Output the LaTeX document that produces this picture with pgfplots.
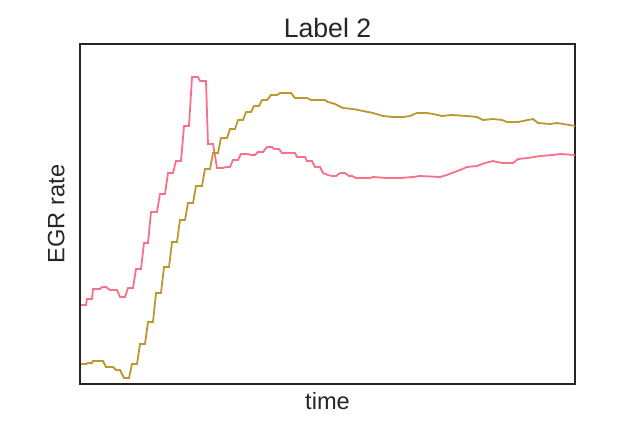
\documentclass[border=0pt]{standalone}
\usepackage{pgfplots}
\pgfplotsset{compat=1.18}
\usepackage{fontspec}
\setmainfont{Liberation Sans}
\usetikzlibrary{calc}

\definecolor{pinkline}{HTML}{F77189}
\definecolor{oliveline}{HTML}{BB9832}
\definecolor{axgray}{HTML}{262626}

\begin{document}
\begin{tikzpicture}
\begin{axis}[
    name=ax,
    scale only axis,
    width=356.4bp,
    height=244.8bp,
    xmin=80, xmax=575,
    ymin=0, ymax=340,
    xtick=\empty, ytick=\empty,
    axis line style={axgray, line width=1.25bp},
    every axis title shift=0pt,
    title={Label 2},
    xlabel={time},
    ylabel={EGR rate},
    title style={font=\fontsize{19.2bp}{23bp}\selectfont, text=axgray,
        at={(axis description cs:0.5,1.0204)}, anchor=base},
    xlabel style={font=\fontsize{17bp}{20bp}\selectfont, text=axgray,
        at={(axis description cs:0.5,-0.0764)}, anchor=base},
    ylabel style={font=\fontsize{17bp}{20bp}\selectfont, text=axgray,
        at={(axis description cs:-0.0314,0.5)}, anchor=base, rotate=0},
]

% pink series
\addplot[pinkline, line width=1.3bp, mark=none] coordinates {
(81,79) (86,79) (87,85) (92,85) (93,95) (100,95) (102,97) (106,97)
(110,94) (117,94) (120,87) (125,87) (128,96) (133,96) (136,115) (141,115)
(144,141) (148,141) (151,172) (157,172) (160,190) (165,190) (168,211) (173,211)
(176,223) (181,223) (184,258) (189,258) (192,307) (198,307) (200,303) (206,303)
(208,240) (213,240) (217,216) (223,216) (226,217) (230,217) (233,224) (238,224)
(241,230) (248,230) (251,229) (255,229) (258,232) (263,232) (267,237) (272,237)
(274,235) (279,235) (282,231) (295,231) (297,227) (305,227) (307,223) (312,223)
(315,217) (320,217) (323,211) (328,209) (332,208) (336,208) (340,211) (345,211)
(349,208) (352,208) (356,206) (370,206) (373,207) (387,206) (400,206) (413,207)
(420,208) (440,207) (447,209) (452,211) (460,214) (467,217) (477,218) (485,221)
(493,223) (502,221) (513,221) (518,225) (528,226) (540,228) (553,229) (560,230)
(575,229)
};

% olive series
\addplot[oliveline, line width=1.3bp, mark=none] coordinates {
(81,20) (86,20) (88,21) (92,21) (93,23) (103,23) (106,17) (113,17)
(116,14) (120,14) (124,6) (129,6) (132,20) (137,20) (140,40) (145,40)
(148,62) (153,62) (156,91) (161,91) (164,117) (169,117) (172,142) (177,142)
(180,164) (185,164) (188,181) (193,181) (196,198) (202,198) (205,215) (210,215)
(213,231) (218,231) (221,246) (227,246) (230,255) (235,255) (238,264) (243,264)
(246,272) (251,272) (254,278) (259,278) (262,284) (267,284) (271,289) (277,289)
(280,291) (291,291) (295,286) (307,286) (311,284) (325,284) (328,282) (335,280)
(343,276) (353,275) (363,273) (373,271) (383,268) (393,267) (403,267) (410,268)
(417,271) (427,271) (433,270) (442,268) (452,269) (467,268) (477,267) (483,264)
(493,265) (502,264) (507,262) (518,262) (523,263) (533,265) (538,261) (550,260)
(557,261) (563,260) (575,258)
};
\end{axis}
\pgfresetboundingbox
\path[use as bounding box] ($(ax.south west)+(-57.6bp,-40.32bp)$) rectangle ($(ax.south west)+(403.2bp,276.48bp)$);
\end{tikzpicture}
\end{document}
